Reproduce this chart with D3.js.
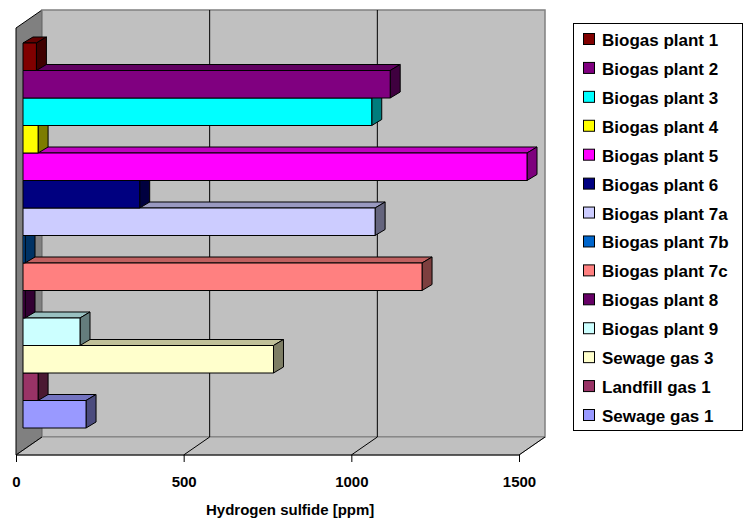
<!DOCTYPE html>
<html>
<head>
<meta charset="utf-8">
<script src="https://cdn.jsdelivr.net/npm/d3@7"></script>
<style>
  body { margin: 0; background: #fff; }
  text { font-family: "Liberation Sans", Arial, sans-serif; font-weight: bold; }
</style>
</head>
<body>
<script>
var names = ["Biogas plant 1", "Biogas plant 2", "Biogas plant 3", "Biogas plant 4",
  "Biogas plant 5", "Biogas plant 6", "Biogas plant 7a", "Biogas plant 7b",
  "Biogas plant 7c", "Biogas plant 8", "Biogas plant 9", "Sewage gas 3",
  "Landfill gas 1", "Sewage gas 1"];
var values = [40, 1095, 1040, 45, 1503, 348, 1050, 6, 1190, 6, 170, 747, 45, 188];
var colors = ["#800000", "#800080", "#00ffff", "#ffff00", "#ff00ff", "#000080", "#ccccff",
  "#0066cc", "#ff8080", "#660066", "#ccffff", "#ffffcc", "#993366", "#9999ff"];
var ticks = [0, 500, 1000, 1500];

var width = 744, height = 520;
var svg = d3.select("body").append("svg").attr("width", width).attr("height", height);

// front plane of the floor / axis
var x = d3.scaleLinear().domain([0, 1500]).range([16, 519]);
var yTop = 28, yBottom = 455;
// depth of the box
var depthX = 26, depthY = -18;
// bars sit a bit behind the front plane
var barX = 7, barY = -4;
var bdx = 10, bdy = -6;

var y = d3.scaleBand().domain(names).range([43, 428]).padding(0);

function poly(pts) { return "M" + pts.map(function (p) { return p.join(","); }).join("L") + "Z"; }

// left wall
svg.append("path")
  .attr("d", poly([[x(0), yTop], [x(0) + depthX, yTop + depthY], [x(0) + depthX, yBottom + depthY], [x(0), yBottom]]))
  .attr("fill", "#808080").attr("stroke", "#000").attr("stroke-width", 1);

// back wall
svg.append("rect")
  .attr("x", x(0) + depthX).attr("y", yTop + depthY)
  .attr("width", x(1500) - x(0)).attr("height", yBottom - yTop)
  .attr("fill", "#c0c0c0").attr("stroke", "#808080").attr("stroke-width", 1.5);

// floor
svg.append("path")
  .attr("d", poly([[x(0), yBottom], [x(0) + depthX, yBottom + depthY], [x(1500) + depthX, yBottom + depthY], [x(1500), yBottom]]))
  .attr("fill", "#c0c0c0").attr("stroke", "#808080").attr("stroke-width", 1);

// gridlines on back wall and floor
ticks.slice(1, 3).forEach(function (t) {
  svg.append("line")
    .attr("x1", x(t) + depthX).attr("x2", x(t) + depthX)
    .attr("y1", yTop + depthY).attr("y2", yBottom + depthY)
    .attr("stroke", "#000").attr("stroke-width", 1);
});
ticks.slice(1).forEach(function (t) {
  svg.append("line")
    .attr("x1", x(t)).attr("y1", yBottom)
    .attr("x2", x(t) + depthX).attr("y2", yBottom + depthY)
    .attr("stroke", "#000").attr("stroke-width", 1);
});
svg.append("line")
  .attr("x1", x(0)).attr("y1", yBottom).attr("x2", x(0) + depthX).attr("y2", yBottom + depthY)
  .attr("stroke", "#000");

// bars, drawn from the bottom one upward
var bars = svg.append("g").attr("stroke", "#000").attr("stroke-width", 1).attr("stroke-linejoin", "round");
d3.range(names.length).reverse().forEach(function (i) {
  var c = d3.color(colors[i]);
  var x0 = x(0) + barX, x1 = x(values[i]) + barX;
  var y0 = y(names[i]) , y1 = y0 + y.bandwidth();
  var g = bars.append("g");
  g.append("path").attr("fill", c.darker(0.8))
    .attr("d", poly([[x0, y0], [x0 + bdx, y0 + bdy], [x1 + bdx, y0 + bdy], [x1, y0]]));
  g.append("path").attr("fill", c.darker(2))
    .attr("d", poly([[x1, y0], [x1 + bdx, y0 + bdy], [x1 + bdx, y1 + bdy], [x1, y1]]));
  g.append("rect").attr("fill", c)
    .attr("x", x0).attr("y", y0).attr("width", x1 - x0).attr("height", y1 - y0);
});

// x axis
var axis = svg.append("g").attr("transform", "translate(0," + yBottom + ")")
  .call(d3.axisBottom(x).tickValues(ticks).tickSize(7).tickPadding(14).tickFormat(d3.format("d")));
axis.select(".domain").attr("stroke", "#000").attr("d", "M" + x(0) + ",0H" + x(1500));
axis.selectAll("text").attr("font-size", 15).attr("font-family", "Liberation Sans, Arial, sans-serif")
  .attr("font-weight", "bold").attr("fill", "#000");

svg.append("text").attr("x", 206).attr("y", 515)
  .attr("font-size", 15).text("Hydrogen sulfide [ppm]");

// legend
var legend = svg.append("g");
legend.append("rect").attr("x", 573.5).attr("y", 23.5).attr("width", 169).attr("height", 407)
  .attr("fill", "#fff").attr("stroke", "#000").attr("stroke-width", 1);
var ly = d3.scalePoint().domain(names).range([46, 422]);
names.forEach(function (n, i) {
  legend.append("rect").attr("x", 583.5).attr("y", ly(n) - 12.5).attr("width", 11).attr("height", 11)
    .attr("fill", colors[i]).attr("stroke", "#000");
  legend.append("text").attr("x", 602).attr("y", ly(n)).attr("font-size", 17).text(n);
});
</script>
</body>
</html>
